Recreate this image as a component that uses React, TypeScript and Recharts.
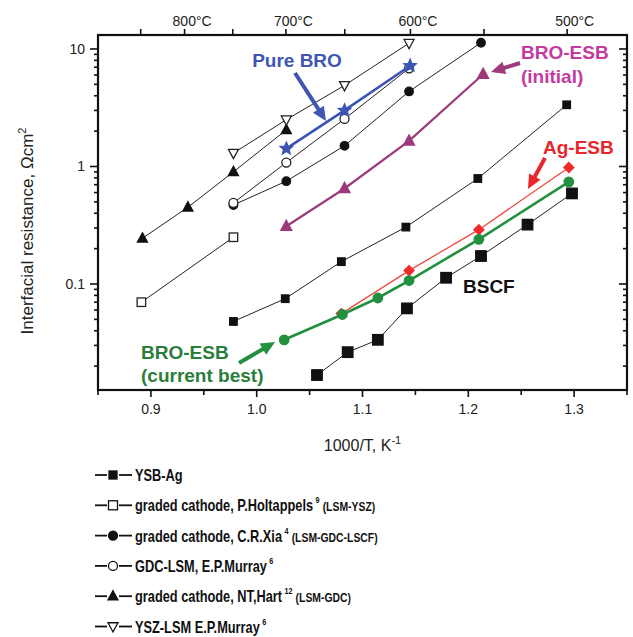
import React from "react";
import { ScatterChart, Scatter, XAxis, YAxis } from "recharts";

// x = 1000/T (K^-1), y = interfacial resistance (ohm cm2)
const ysbAg = [
  { x: 0.978, y: 0.048 }, { x: 1.027, y: 0.075 }, { x: 1.08, y: 0.155 },
  { x: 1.141, y: 0.305 }, { x: 1.209, y: 0.79 }, { x: 1.293, y: 3.35 },
];
const holtappels = [{ x: 0.891, y: 0.07 }, { x: 0.978, y: 0.25 }];
const xia = [
  { x: 0.978, y: 0.47 }, { x: 1.028, y: 0.75 }, { x: 1.083, y: 1.5 },
  { x: 1.144, y: 4.35 }, { x: 1.212, y: 11.3 },
];
const murrayGdc = [
  { x: 0.978, y: 0.49 }, { x: 1.028, y: 1.08 }, { x: 1.083, y: 2.54 }, { x: 1.144, y: 6.85 },
];
const hart = [
  { x: 0.892, y: 0.245 }, { x: 0.935, y: 0.45 }, { x: 0.978, y: 0.9 }, { x: 1.028, y: 2.05 },
];
const murrayYsz = [
  { x: 0.978, y: 1.3 }, { x: 1.028, y: 2.5 }, { x: 1.083, y: 4.9 }, { x: 1.144, y: 11.2 },
];
const pureBro = [{ x: 1.028, y: 1.42 }, { x: 1.083, y: 3.0 }, { x: 1.145, y: 7.2 }];
const broEsbInitial = [
  { x: 1.028, y: 0.31 }, { x: 1.083, y: 0.65 }, { x: 1.144, y: 1.65 }, { x: 1.214, y: 6.1 },
];
const agEsb = [
  { x: 1.08, y: 0.056 }, { x: 1.144, y: 0.13 }, { x: 1.21, y: 0.29 }, { x: 1.295, y: 0.98 },
];
const broEsbBest = [
  { x: 1.026, y: 0.0335 }, { x: 1.081, y: 0.055 }, { x: 1.1145, y: 0.076 },
  { x: 1.144, y: 0.107 }, { x: 1.21, y: 0.24 }, { x: 1.295, y: 0.74 },
];
const bscf = [
  { x: 1.057, y: 0.0168 }, { x: 1.086, y: 0.0263 }, { x: 1.1145, y: 0.0335 }, { x: 1.142, y: 0.062 },
  { x: 1.179, y: 0.113 }, { x: 1.212, y: 0.173 }, { x: 1.256, y: 0.32 }, { x: 1.298, y: 0.59 },
];

const xDomain = [0.85, 1.35];
const yDomain = [0.01253, 13.15];
const xTicks = [0.85, 0.9, 0.95, 1.0, 1.05, 1.1, 1.15, 1.2, 1.25, 1.3, 1.35];
const tempTicksC = [850, 800, 750, 700, 650, 600, 550, 500];
const tempLabelsC = [800, 700, 600, 500];
const yTicks = [
  0.02, 0.03, 0.04, 0.05, 0.06, 0.07, 0.08, 0.09, 0.1,
  0.2, 0.3, 0.4, 0.5, 0.6, 0.7, 0.8, 0.9, 1,
  2, 3, 4, 5, 6, 7, 8, 9, 10,
];
const yLabels = [0.1, 1, 10];

const FONT = "'Liberation Sans', Arial, Helvetica, sans-serif";
const AXIS = "#111";

// plot box in page pixels (chart margins + axis sizes below give the same box)
const PLOT = { left: 98, top: 35, right: 627, bottom: 390 };

type Kind = "square" | "circle" | "triangle" | "triangleDown" | "star" | "diamond";

const Marker = ({ kind, cx, cy, size, fill, stroke, sw = 1.2 }: any) => {
  const r = size / 2;
  if (kind === "square")
    return <rect x={cx - r} y={cy - r} width={size} height={size} fill={fill} stroke={stroke} strokeWidth={sw} />;
  if (kind === "circle") return <circle cx={cx} cy={cy} r={r} fill={fill} stroke={stroke} strokeWidth={sw} />;
  if (kind === "diamond")
    return <polygon points={`${cx},${cy - r} ${cx + r},${cy} ${cx},${cy + r} ${cx - r},${cy}`} fill={fill} stroke={stroke} strokeWidth={sw} />;
  if (kind === "triangle")
    return <polygon points={`${cx},${cy - r * 1.1} ${cx + r},${cy + r * 0.75} ${cx - r},${cy + r * 0.75}`} fill={fill} stroke={stroke} strokeWidth={sw} />;
  if (kind === "triangleDown")
    return <polygon points={`${cx},${cy + r * 1.1} ${cx + r},${cy - r * 0.75} ${cx - r},${cy - r * 0.75}`} fill={fill} stroke={stroke} strokeWidth={sw} />;
  // star
  const pts: string[] = [];
  for (let i = 0; i < 10; i++) {
    const rr = i % 2 === 0 ? r : r * 0.45;
    const a = -Math.PI / 2 + (i * Math.PI) / 5;
    pts.push(`${cx + rr * Math.cos(a)},${cy + rr * Math.sin(a)}`);
  }
  return <polygon points={pts.join(" ")} fill={fill} stroke={stroke} strokeWidth={sw} />;
};

const SERIES: {
  name: string; data: { x: number; y: number }[]; kind: Kind; size: number;
  fill: string; stroke: string; line: string; lw: number;
}[] = [
  { name: "YSB-Ag", data: ysbAg, kind: "square", size: 7.5, fill: "#111", stroke: "#111", line: "#222", lw: 1 },
  { name: "Holtappels", data: holtappels, kind: "square", size: 8.5, fill: "#fff", stroke: "#222", line: "#222", lw: 1 },
  { name: "Xia", data: xia, kind: "circle", size: 8.5, fill: "#111", stroke: "#111", line: "#222", lw: 1 },
  { name: "Murray GDC-LSM", data: murrayGdc, kind: "circle", size: 9, fill: "#fff", stroke: "#222", line: "#222", lw: 1 },
  { name: "Hart", data: hart, kind: "triangle", size: 10, fill: "#111", stroke: "#111", line: "#222", lw: 1 },
  { name: "Murray YSZ-LSM", data: murrayYsz, kind: "triangleDown", size: 10, fill: "#fff", stroke: "#222", line: "#222", lw: 1 },
  { name: "BSCF", data: bscf, kind: "square", size: 10.5, fill: "#111", stroke: "#111", line: "#222", lw: 1 },
  { name: "Pure BRO", data: pureBro, kind: "star", size: 13, fill: "#3b55b4", stroke: "#3b55b4", line: "#3b55b4", lw: 2.6 },
  { name: "BRO-ESB (initial)", data: broEsbInitial, kind: "triangle", size: 11, fill: "#9c3a7c", stroke: "#9c3a7c", line: "#9c3a7c", lw: 2.2 },
  { name: "Ag-ESB", data: agEsb, kind: "diamond", size: 10, fill: "#ee2b2b", stroke: "#ee2b2b", line: "#f04a40", lw: 1.3 },
  { name: "BRO-ESB (current best)", data: broEsbBest, kind: "circle", size: 9.5, fill: "#22903f", stroke: "#22903f", line: "#22903f", lw: 2.6 },
];

const LEGEND = [
  { kind: "square", fill: "#111", size: 8, text: "YSB-Ag", sup: "", note: "" },
  { kind: "square", fill: "#fff", size: 9, text: "graded cathode, P.Holtappels", sup: "9", note: "(LSM-YSZ)" },
  { kind: "circle", fill: "#111", size: 9, text: "graded cathode, C.R.Xia", sup: "4", note: "(LSM-GDC-LSCF)" },
  { kind: "circle", fill: "#fff", size: 9, text: "GDC-LSM, E.P.Murray", sup: "6", note: "" },
  { kind: "triangle", fill: "#111", size: 10, text: "graded cathode, NT,Hart", sup: "12", note: "(LSM-GDC)" },
  { kind: "triangleDown", fill: "#fff", size: 10, text: "YSZ-LSM E.P.Murray", sup: "6", note: "" },
];

const near = (a: number, b: number) => Math.abs(a - b) < 1e-6 * Math.max(1, Math.abs(b));

const BottomTick = (p: any) => {
  const { x, y, payload } = p;
  const v = payload.value;
  const major = near(v * 10, Math.round(v * 10));
  return (
    <g>
      <rect x={x - 0.8} y={y} width={1.6} height={major ? 7 : 5} fill={AXIS} />
      {major && v > 0.86 && v < 1.34 && (
        <text x={x} y={y + 24} textAnchor="middle" fontSize={14} fontFamily={FONT} fill="#222">
          {v.toFixed(1)}
        </text>
      )}
    </g>
  );
};

const TopTick = (p: any) => {
  const { x, y, payload } = p;
  const tC = Math.round(1000 / payload.value - 273.15);
  const labelled = tempLabelsC.includes(tC);
  return (
    <g>
      <rect x={x - 0.8} y={y - 6} width={1.6} height={6} fill={AXIS} />
      {labelled && (
        <text x={x - 12} y={y - 9} textAnchor="start" fontSize={14} fontFamily={FONT} fill="#222">
          {tC}°C
        </text>
      )}
    </g>
  );
};

const LeftTick = (p: any) => {
  const { x, y, payload } = p;
  const v = payload.value;
  const major = yLabels.some((l) => near(v, l));
  const len = major ? 8 : 4;
  return (
    <g>
      <rect x={x - len} y={y - 0.8} width={len} height={1.6} fill={AXIS} />
      {major && (
        <text x={x - 13} y={y + 5} textAnchor="end" fontSize={14} fontFamily={FONT} fill="#222">
          {String(v)}
        </text>
      )}
    </g>
  );
};

const RightTick = (p: any) => {
  const { x, y, payload } = p;
  const major = yLabels.some((l) => near(payload.value, l));
  const len = major ? 8 : 4;
  return <rect x={x - len} y={y - 0.8} width={len} height={1.6} fill={AXIS} />;
};

const XLabel = (p: any) => {
  const vb = p.viewBox;
  return (
    <text x={vb.x + vb.width / 2} y={vb.y + 61} textAnchor="middle" fontSize={16} fontFamily={FONT} fill="#222">
      1000/T, K<tspan dy={-7} fontSize={11}>-1</tspan>
    </text>
  );
};

// rotated y-axis title, placed in page pixels
const YLabel = () => {
  const cx = 27;
  const cy = 231;
  return (
    <text x={cx} y={cy} dy={6} transform={`rotate(-90 ${cx} ${cy})`} textAnchor="middle" fontSize={17} fontFamily={FONT} fill="#222">
      Interfacial resistance, Ωcm<tspan dy={-7} fontSize={11}>2</tspan>
    </text>
  );
};

const Arrow = ({ x1, y1, x2, y2, color, w = 4, head = 14, hw = 13 }: any) => {
  const dx = x2 - x1;
  const dy = y2 - y1;
  const len = Math.hypot(dx, dy);
  const ux = dx / len;
  const uy = dy / len;
  const bx = x2 - ux * head;
  const by = y2 - uy * head;
  const nx = -uy * (hw / 2);
  const ny = ux * (hw / 2);
  return (
    <g>
      <line x1={x1} y1={y1} x2={bx + ux * 2} y2={by + uy * 2} stroke={color} strokeWidth={w} />
      <polygon points={`${x2},${y2} ${bx + nx},${by + ny} ${bx - nx},${by - ny}`} fill={color} />
    </g>
  );
};

const Overlay = () => (
  <svg width={633} height={637} style={{ position: "absolute", left: 0, top: 0, pointerEvents: "none" }}>
    <rect
      x={PLOT.left} y={PLOT.top} width={PLOT.right - PLOT.left} height={PLOT.bottom - PLOT.top}
      fill="none" stroke="#111" strokeWidth={2.2}
    />
    <YLabel />
    <g fontFamily={FONT} fontWeight="bold" fontSize={19}>
      <text x={297} y={67} textAnchor="middle" fill="#3f56b5">Pure BRO</text>
      <Arrow x1={295} y1={73} x2={326} y2={121} color="#3f56b5" />
      <text x={521} y={59} fill="#c43a9e">BRO-ESB</text>
      <text x={521} y={83} fill="#c43a9e">(initial)</text>
      <Arrow x1={520} y1={63} x2={491} y2={72} color="#9c3a7c" />
      <text x={543} y={154} fill="#e8262b">Ag-ESB</text>
      <Arrow x1={545} y1={158} x2={528} y2={189} color="#e8262b" />
      <text x={463} y={293} fill="#111">BSCF</text>
      <text x={141} y={359} fill="#2b7d3a">BRO-ESB</text>
      <text x={141} y={382} fill="#2b7d3a">(current best)</text>
      <Arrow x1={239} y1={363} x2={275} y2={342} color="#22903f" />
    </g>
    {LEGEND.map((e, i) => {
      const cy = 475 + i * 30.3;
      return (
        <g key={e.text}>
          <line x1={95} x2={107} y1={cy} y2={cy} stroke="#111" strokeWidth={1.8} />
          <line x1={119} x2={132} y1={cy} y2={cy} stroke="#111" strokeWidth={1.8} />
          <Marker kind={e.kind} cx={113} cy={cy} size={e.size} fill={e.fill} stroke="#111" sw={1.3} />
          <g transform={`translate(135 ${cy + 6}) scale(0.8 1)`}>
            <text x={0} y={0} fontFamily={FONT} fontWeight="bold" fontSize={16} fill="#111">
              {e.text}
              {e.sup && <tspan dx={3} dy={-8} fontSize={9}>{e.sup}</tspan>}
              {e.note && <tspan dx={4} dy={8} fontSize={13}>{e.note}</tspan>}
            </text>
          </g>
        </g>
      );
    })}
  </svg>
);

export default function App() {
  const tempTicks = tempTicksC.map((t) => 1000 / (t + 273.15));
  return (
    <div style={{ position: "absolute", left: 0, top: 0, width: 633, height: 637, background: "#fff" }}>
      <ScatterChart
        width={633}
        height={637}
        margin={{ top: PLOT.top - 35, right: 633 - PLOT.right - 1, bottom: 637 - PLOT.bottom - 60, left: PLOT.left - 98 }}
      >
        <XAxis
          xAxisId="b" dataKey="x" type="number" orientation="bottom" domain={xDomain} allowDataOverflow
          ticks={xTicks} interval={0} height={60} tickSize={0} tickMargin={0} tickLine={false}
          tick={<BottomTick />} axisLine={false} label={<XLabel />}
        />
        <XAxis
          xAxisId="t" dataKey="x" type="number" orientation="top" domain={xDomain} allowDataOverflow
          ticks={tempTicks} interval={0} height={35} tickSize={0} tickMargin={0} tickLine={false}
          tick={<TopTick />} axisLine={false}
        />
        <YAxis
          yAxisId="l" dataKey="y" type="number" scale="log" domain={yDomain} allowDataOverflow
          ticks={yTicks} interval={0} width={98} tickSize={0} tickMargin={0} tickLine={false}
          tick={<LeftTick />} axisLine={false}
        />
        <YAxis
          yAxisId="r" dataKey="y" type="number" orientation="right" scale="log" domain={yDomain} allowDataOverflow
          ticks={yTicks} interval={0} width={1} tickSize={0} tickMargin={0} tickLine={false}
          tick={<RightTick />} axisLine={false}
        />
        {SERIES.map((s) => (
          <Scatter
            key={s.name}
            name={s.name}
            data={s.data}
            xAxisId="b"
            yAxisId="l"
            isAnimationActive={false}
            line={{ stroke: s.line, strokeWidth: s.lw }}
            lineType="joint"
            shape={(p: any) => (
              <Marker kind={s.kind} cx={p.cx} cy={p.cy} size={s.size} fill={s.fill} stroke={s.stroke} sw={1.3} />
            )}
          />
        ))}
        {/* invisible series so the top (temperature) and right axes get drawn */}
        <Scatter
          name="frame"
          data={bscf}
          xAxisId="t"
          yAxisId="r"
          isAnimationActive={false}
          shape={() => <g />}
          legendType="none"
        />
      </ScatterChart>
      <Overlay />
    </div>
  );
}
